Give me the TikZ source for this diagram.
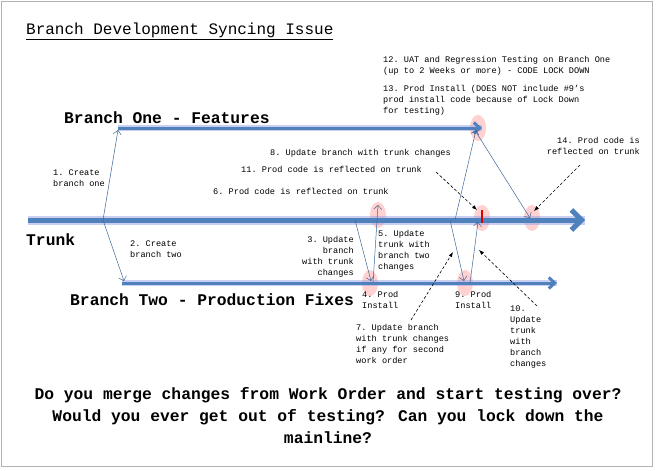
\documentclass[tikz,border=0pt]{standalone}
\usepackage{fontspec}
\setmainfont{Liberation Mono}
\usetikzlibrary{arrows.meta,shapes.geometric}
\definecolor{bl}{RGB}{79,129,189}
\definecolor{glowc}{RGB}{150,160,230}
\tikzset{
  x=1pt,y=-1pt,
  sm/.style={font=\fontsize{8.6}{11}\selectfont,inner sep=0,align=left},
  big/.style={font=\fontsize{16.3}{22}\selectfont\bfseries,inner sep=0},
  mainln/.style={line width=5pt,draw=bl},
  glowln/.style={line width=9pt,draw=glowc,opacity=0.5},
  thin/.style={draw=bl!80!black,line width=0.5pt,-{Straight Barb[length=4pt]}},
  dsh/.style={densely dashed,line width=0.6pt,-{Latex[length=5pt]}},
  glw/.style={ellipse,fill=red!60,opacity=0.3,minimum width=16pt,minimum height=26pt,inner sep=0}
}
\begin{document}
\begin{tikzpicture}
\useasboundingbox (0,0) rectangle (657,471);
\draw[gray!60] (1,1) rectangle (652,466);
\foreach \n/\p in {g1/{(378,215)},g2/{(370,283)},g3/{(478,128)},g4/{(482,218)},g5/{(465,283)},g6/{(532,218)}}
  \node[glw] (\n) at \p {};
\coordinate (ts) at (28,220); \coordinate (te) at (585,220);
\draw[glowln] (ts) -- (te);
\draw[mainln,-{Straight Barb[length=10pt,width=20pt]}] (ts) -- (te);
\coordinate (b1s) at (118,128); \coordinate (b1e) at (482,128);
\draw[glowln,line width=6pt] (b1s) -- (b1e);
\draw[mainln,line width=3pt,-{Straight Barb[length=6pt,width=11pt]}] (b1s) -- (b1e);
\coordinate (b2s) at (122,283); \coordinate (b2e) at (557,283);
\draw[glowln,line width=6pt] (b2s) -- (b2e);
\draw[mainln,line width=3pt,-{Straight Barb[length=6pt,width=11pt]}] (b2s) -- (b2e);
\node[fill=red!85!black,minimum width=2.5pt,minimum height=13pt,inner sep=0] (mk) at (482,216) {};
\coordinate (c0) at (103,220);
\draw[thin] (c0) -- (118,130);
\draw[thin] (c0) -- (124,281);
\draw[thin] (355,220) -- (371,281);
\draw[thin] (373,283) -- (378,205);
\draw[thin] (455,220) -- (476,130);
\draw[thin] (450,220) -- (464,281);
\draw[thin] (470,283) -- (478,222);
\draw[thin] (476,132) -- (530,218);
\coordinate (d1) at (436,172); \draw[dsh] (d1) -- (477,210);
\coordinate (d2) at (580,165); \draw[dsh] (d2) -- (534,211);
\coordinate (d3) at (411,320); \draw[dsh] (d3) -- (453,252);
\coordinate (d4) at (537,306); \draw[dsh] (d4) -- (479,250);
\node[font=\fontsize{16}{18}\selectfont,anchor=west,inner sep=0] (title) at (26,31) {\underline{Branch Development Syncing Issue}};
\node[sm,anchor=north west] (t12) at (383,56) {12.\ UAT and Regression Testing on Branch One\\(up to 2 Weeks or more) - CODE LOCK DOWN};
\node[sm,anchor=north west] (t13) at (383,85) {13.\ Prod Install (DOES NOT include \#9's\\prod install code because of Lock Down\\for testing)};
\node[big,anchor=west] (b1) at (64,118) {Branch One - Features};
\node[sm,anchor=west] (t8) at (270,153) {8.\ Update branch with trunk changes};
\node[sm,anchor=west] (t11) at (241,169) {11.\ Prod code is reflected on trunk};
\node[sm,anchor=west] (t6) at (213,191) {6.\ Prod code is reflected on trunk};
\node[sm,anchor=north east,align=right] (t14) at (640,137) {14.\ Prod code is\\reflected on trunk};
\node[sm,anchor=north west] (t1) at (53,170) {1.\ Create\\branch one};
\node[big,anchor=west] (tr) at (26,240) {Trunk};
\node[sm,anchor=north west] (t2) at (130,241) {2.\ Create\\branch two};
\node[sm,anchor=north east,align=right] (t3) at (354,236) {3.\ Update\\branch\\with trunk\\changes};
\node[sm,anchor=north west] (t5) at (378,230) {5.\ Update\\trunk with\\branch two\\changes};
\node[big,anchor=west] (b2) at (70,300) {Branch Two - Production Fixes};
\node[sm,anchor=north west] (t4) at (362,291) {4.\ Prod\\Install};
\node[sm,anchor=north west] (t9) at (455,291) {9.\ Prod\\Install};
\node[sm,anchor=north west] (t10) at (510,306) {10.\\Update\\trunk\\with\\branch\\changes};
\node[sm,anchor=north west] (t7) at (356,324) {7.\ Update branch\\with trunk changes\\if any for second\\work order};
\node[big,align=center] (q) at (328,416) {Do you merge changes from Work Order and start testing over?\\Would you ever get out of testing? Can you lock down the\\mainline?};
\end{tikzpicture}
\end{document}
